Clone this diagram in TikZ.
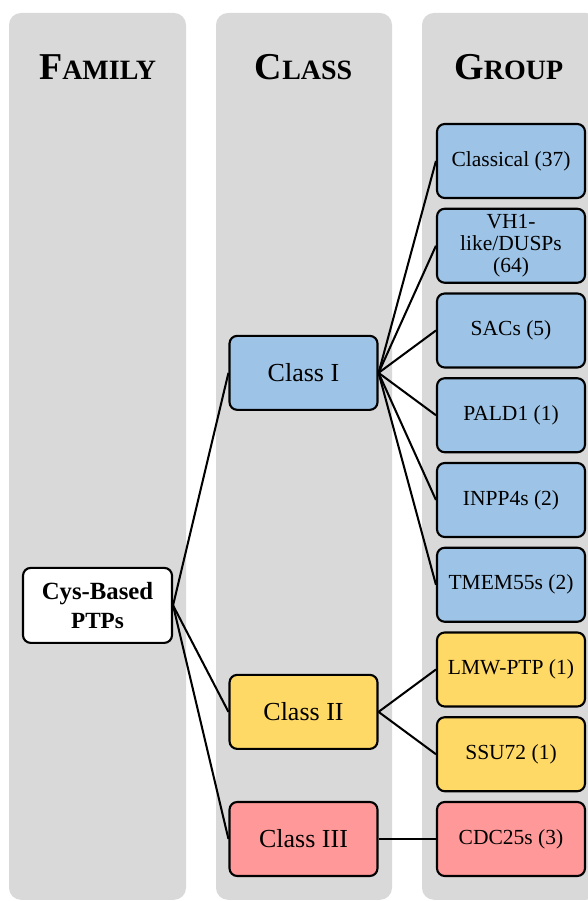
\documentclass[tikz,border=0pt]{standalone}
\usepackage{fontspec}
\setmainfont{Liberation Serif}
\usepackage{tikz}
\usetikzlibrary{positioning}
\definecolor{panel}{HTML}{D9D9D9}
\definecolor{classone}{HTML}{9DC3E6}
\definecolor{classtwo}{HTML}{FFD966}
\definecolor{classthree}{HTML}{FF9999}
\newcommand{\colhead}[2]{{\fontsize{27}{30}\selectfont\bfseries #1}{\fontsize{19.9}{24}\selectfont\bfseries #2}}

\begin{document}
\begin{tikzpicture}[
  lane/.style={fill=panel, rounded corners=8.5pt},
  box/.style={draw, line width=1.5pt, rounded corners=5.5pt, minimum width=3.7cm, minimum height=1.85cm, align=center, inner sep=2pt},
  clsbox/.style={box, font=\fontsize{18.5}{21}\selectfont},
  grpbox/.style={box, font=\fontsize{15.3}{15.6}\selectfont},
  link/.style={line width=1.45pt}]
\clip (0,0) rectangle (14.7,22.525);
%% ---- column panels ----
\fill[lane] (0.225,0.03) rectangle (4.65,22.2);
\fill[lane] (5.4,0.03) rectangle (9.8,22.2);
\fill[lane] (10.55,0.03) rectangle (14.95,22.2);
\node[anchor=base] (hfam) at (2.44,20.525) {\colhead{F}{AMILY}};
\node[anchor=base] (hcls) at (7.59,20.525) {\colhead{C}{LASS}};
\node[anchor=base] (hgrp) at (12.72,20.525) {\colhead{G}{ROUP}};
%% ---- family ----
\node[box, fill=white, minimum width=3.725cm, minimum height=1.875cm,
  font=\fontsize{17.6}{21}\selectfont\bfseries] (fam) at (2.4375,7.39)
  {Cys-Based\\{\fontsize{16.5}{21}\selectfont PTPs}};
%% ---- classes ----
\node[clsbox, fill=classone]   (cls1) at (7.5875,13.203) {Class I};
\node[clsbox, fill=classtwo]   (cls2) at (7.5875,4.728) {Class II};
\node[clsbox, fill=classthree] (cls3) at (7.5875,1.55) {Class III};
%% ---- groups ----
\foreach \lbl [count=\i] in {Classical (37), {VH1-\\like/DUSPs\\(64)}, SACs (5), PALD1 (1),
    INPP4s (2), TMEM55s (2)}
  \node[grpbox, fill=classone] (grp\i) at (12.775,{18.5-(\i-1)*2.11875}) {\lbl};
\node[grpbox, fill=classtwo]   (grp7) at (12.775,5.7875) {LMW-PTP (1)};
\node[grpbox, fill=classtwo]   (grp8) at (12.775,3.669) {SSU72 (1)};
\node[grpbox, fill=classthree] (grp9) at (12.775,1.55) {CDC25s (3)};
%% ---- links ----
\foreach \c in {1,2,3}
  \draw[link] (fam.east) -- (cls\c.west);
\foreach \g in {1,...,6}
  \draw[link] (cls1.east) -- (grp\g.west);
\draw[link] (cls2.east) -- (grp7.west);
\draw[link] (cls2.east) -- (grp8.west);
\draw[link] (cls3.east) -- (grp9.west);
\end{tikzpicture}
\end{document}
